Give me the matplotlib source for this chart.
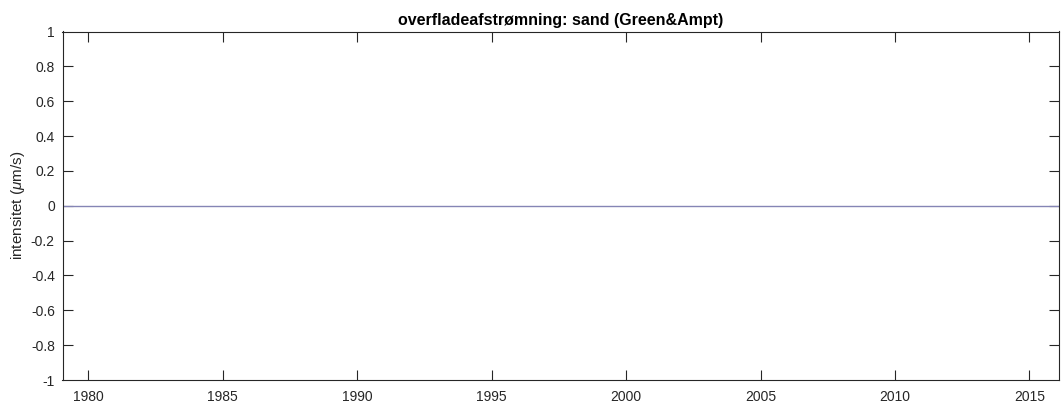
import matplotlib
matplotlib.use("Agg")
import matplotlib.pyplot as plt

# data
years = [1979.04, 1985.0, 1990.0, 1995.0, 2000.0, 2005.0, 2010.0, 2016.1]
runoff = [0.0, 0.0, 0.0, 0.0, 0.0, 0.0, 0.0, 0.0]
xticks = [1980, 1985, 1990, 1995, 2000, 2005, 2010, 2015]
yticks = [-1, -0.8, -0.6, -0.4, -0.2, 0, 0.2, 0.4, 0.6, 0.8, 1]
ytick_labels = ["-1", "-0.8", "-0.6", "-0.4", "-0.2", "0", "0.2", "0.4", "0.6", "0.8", "1"]

plt.rcParams['font.family'] = ['Liberation Sans', 'DejaVu Sans']
plt.rcParams['mathtext.fontset'] = 'custom'
plt.rcParams['mathtext.rm'] = 'Liberation Sans'
plt.rcParams['mathtext.it'] = 'Liberation Sans:italic'

W, H = 1061, 405
fig = plt.figure(figsize=(W / 100, H / 100), dpi=100)
ax = fig.add_axes([62.5 / W, 1 - 380 / H, (1059 - 62.5) / W, (380 - 31.5) / H])

ax.plot(years, runoff, color='#8585b5', linewidth=1.0)

ax.set_xlim(1979.04, 2016.1)
ax.set_ylim(-1, 1)
ax.set_xticks(xticks)
ax.set_xticklabels([str(t) for t in xticks])
ax.set_yticks(yticks)
ax.set_yticklabels(ytick_labels)

ax.tick_params(direction='in', length=7.5, width=0.8, colors='#262626',
               labelsize=10, top=True, right=True)
ax.tick_params(axis='y', pad=5.5)
ax.tick_params(axis='x', pad=7.5)
for s in ax.spines.values():
    s.set_color('#262626')
    s.set_linewidth(0.8)

# tick marks at the y limits coincide with the box edges
ymajor = ax.yaxis.get_major_ticks()
for t in (ymajor[0], ymajor[-1]):
    t.tick1line.set_visible(False)
    t.tick2line.set_visible(False)

ax.set_title('overfladeafstrømning: sand (Green&Ampt)', fontsize=11.5,
             fontweight='bold', color='black', pad=5)
ax.set_ylabel(r'intensitet ($\mu$m/s)', fontsize=11, color='#262626', labelpad=2.5)

fig.savefig('out.png', dpi=100)
